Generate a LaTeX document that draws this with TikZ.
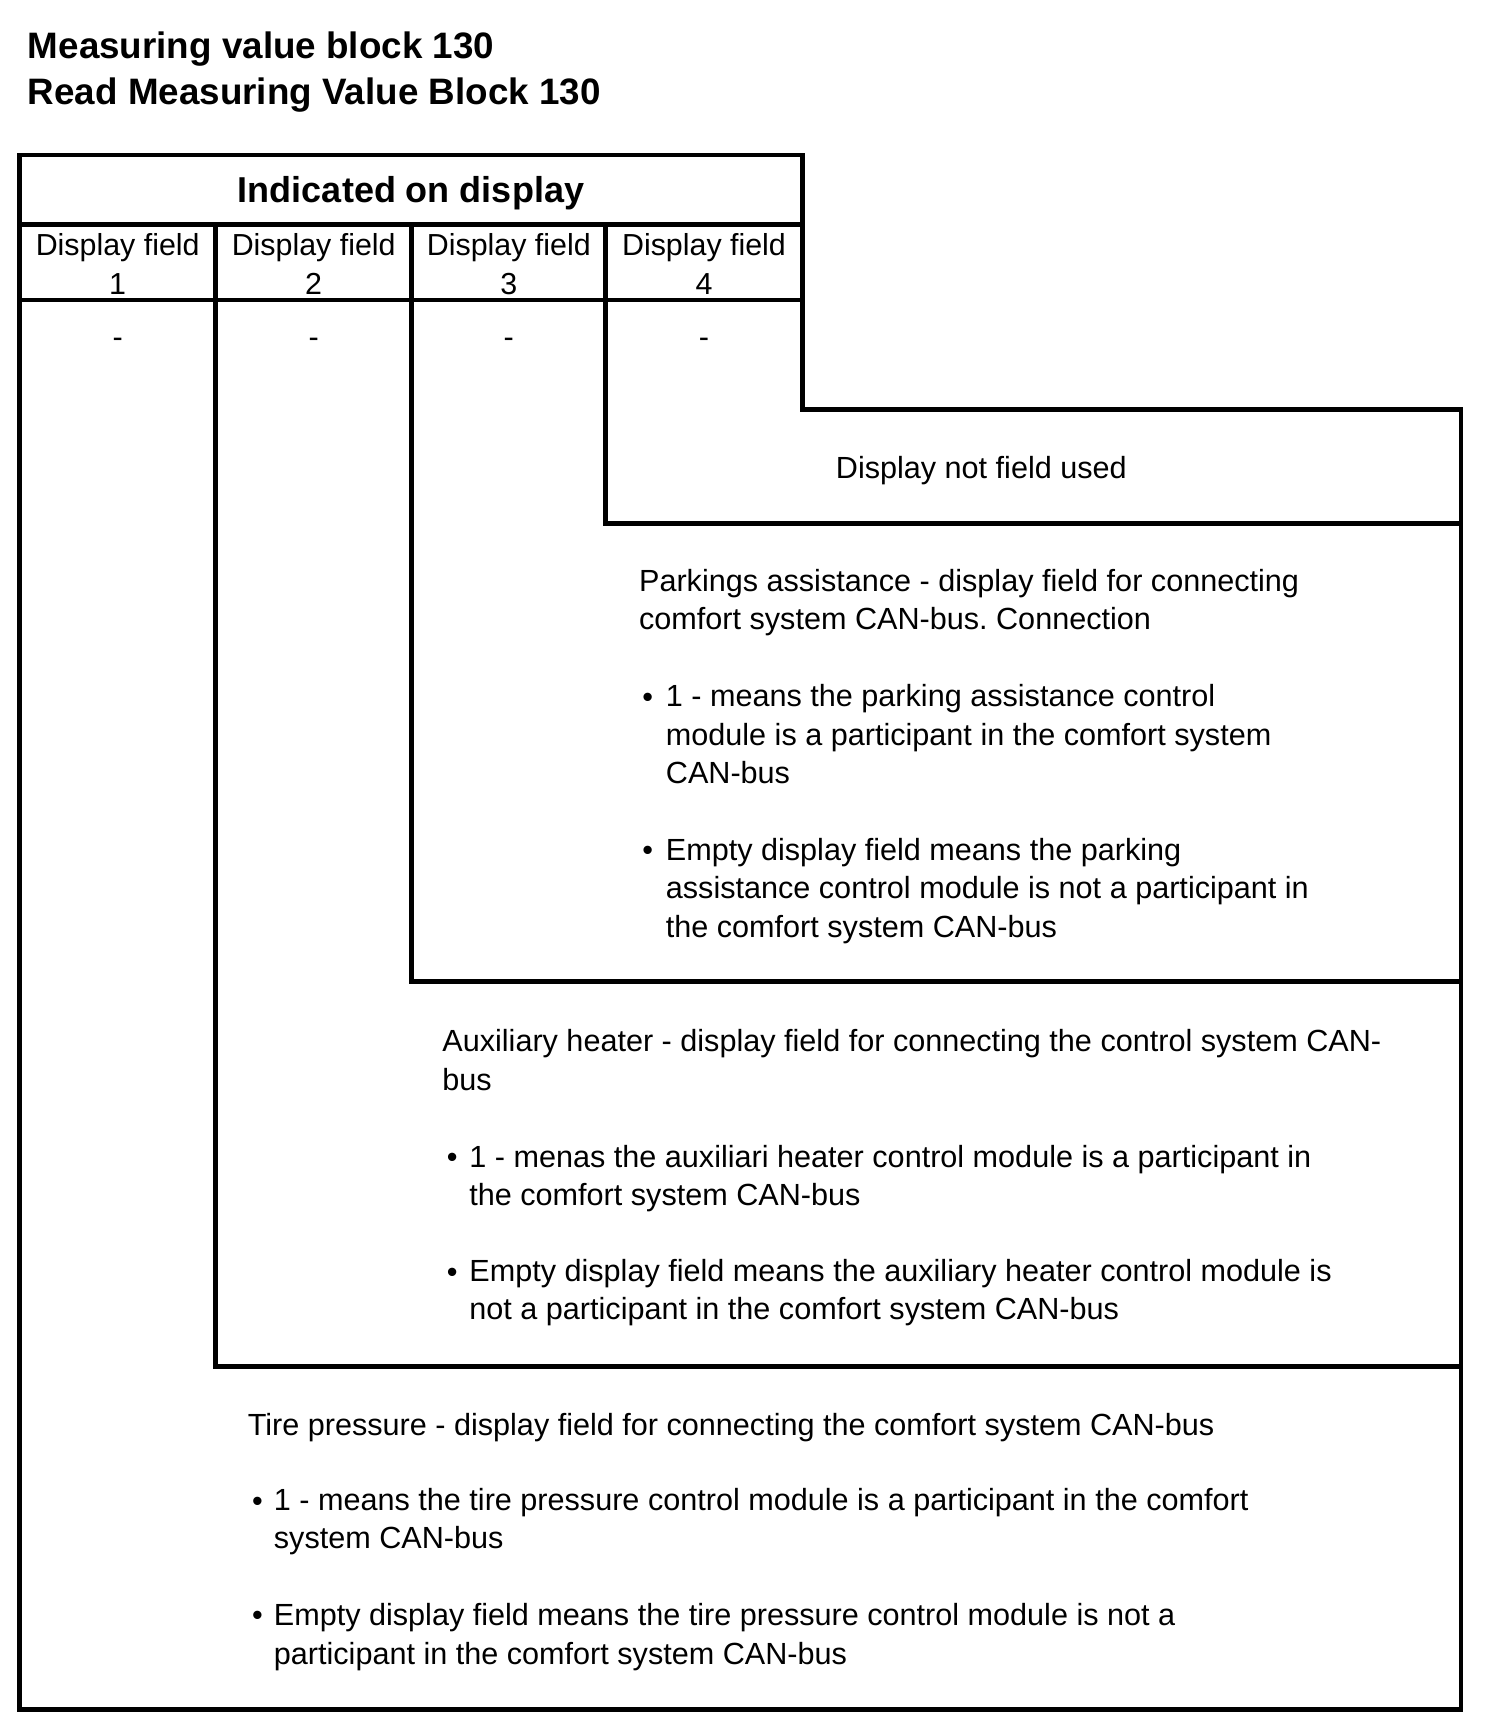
\documentclass[tikz,border=0pt]{standalone}
\usepackage{fontspec}
\setmainfont{Liberation Sans}
\usetikzlibrary{positioning}
\frenchspacing

\begin{document}
\begin{tikzpicture}[x=0.5pt,y=-0.5pt,
  frame/.style={line width=2.35pt,line join=miter},
  ttl/.style={font=\fontsize{18.4}{23}\selectfont\bfseries,anchor=base west,inner sep=0pt},
  hdr/.style={font=\fontsize{18}{22}\selectfont\bfseries,anchor=base,inner sep=0pt},
  fld/.style={font=\fontsize{15.2}{19.75}\selectfont,align=center,anchor=base,inner sep=0pt},
  txt/.style={font=\fontsize{15.3}{19.2}\selectfont,align=left,anchor=base west,inner sep=0pt},
  dot/.style={font=\fontsize{15.3}{19.2}\selectfont,anchor=base west,inner sep=0pt}]

\useasboundingbox (0,0) rectangle (1504,1724);

% ===== titles =====
\node[ttl] (title1) at (27.5,58) {Measuring value block 130};
\node[ttl] (title2) at (27.5,104) {Read Measuring Value Block 130};

% ===== grid corners =====
\coordinate (tl) at (19.7,155);
\coordinate (tr) at (802.3,155);
\coordinate (c4) at (802.3,409.5);
\coordinate (r4) at (1461,409.5);
\coordinate (br) at (1461,1709.5);
\coordinate (bl) at (19.7,1709.5);

% outer staircase + header rules
\draw[frame] (tl) -- (tr) -- (c4) -- (r4) -- (br) -- (bl) -- cycle;
\draw[frame] (19.7,224.3) -- (802.3,224.3);
\draw[frame] (19.7,300.1) -- (802.3,300.1);
% column rules running down into their boxes
\draw[frame] (215.7,224.3) -- (215.7,1366.3) -- (1461,1366.3);
\draw[frame] (411.7,224.3) -- (411.7,981.7) -- (1461,981.7);
\draw[frame] (605.8,224.3) -- (605.8,523.3) -- (1461,523.3);

% ===== header =====
% (base of a multi-line node = its last line)
\node[hdr] (hdr) at (411,202) {Indicated on display};
\foreach \n/\xx in {1/117.7,2/313.7,3/508.8,4/704}{
  \node[fld] (fld\n) at (\xx,294.5) {Display field\\\n};
  \node[dot,anchor=base] (dash\n) at (\xx,347) {-};
}

% ===== field 4 =====
\node[txt] (unused) at (835.5,478) {Display not field used};

% ===== field 3: parking assistance =====
\node[txt] (park) at (638.7,629.5) {Parkings assistance - display field for connecting\\comfort system CAN-bus. Connection};
\node[dot] (parkb1) at (642,707.5) {•};
\node[txt] (parkt1) at (665.5,783.4) {1 - means the parking assistance control\\module is a participant in the comfort system\\CAN-bus};
\node[dot] (parkb2) at (642,860.3) {•};
\node[txt] (parkt2) at (665.5,937.3) {Empty display field means the parking\\assistance control module is not a participant in\\the comfort system CAN-bus};

% ===== field 2: auxiliary heater =====
\node[txt] (aux) at (442,1090.1) {Auxiliary heater - display field for connecting the control system CAN-\\bus};
\node[dot] (auxb1) at (446.4,1167.1) {•};
\node[txt] (auxt1) at (469,1205.5) {1 - menas the auxiliari heater control module is a participant in\\the comfort system CAN-bus};
\node[dot] (auxb2) at (446.4,1282.5) {•};
\node[txt] (auxt2) at (469,1319.9) {Empty display field means the auxiliary heater control module is\\not a participant in the comfort system CAN-bus};

% ===== field 1: tire pressure =====
\node[txt] (tire) at (247.4,1435.3) {Tire pressure - display field for connecting the comfort system CAN-bus};
\node[dot] (tireb1) at (251.8,1511.2) {•};
\node[txt] (tiret1) at (273.5,1548.6) {1 - means the tire pressure control module is a participant in the comfort\\system CAN-bus};
\node[dot] (tireb2) at (251.8,1625.5) {•};
\node[txt] (tiret2) at (273.5,1664) {Empty display field means the tire pressure control module is not a\\participant in the comfort system CAN-bus};

\end{tikzpicture}
\end{document}
